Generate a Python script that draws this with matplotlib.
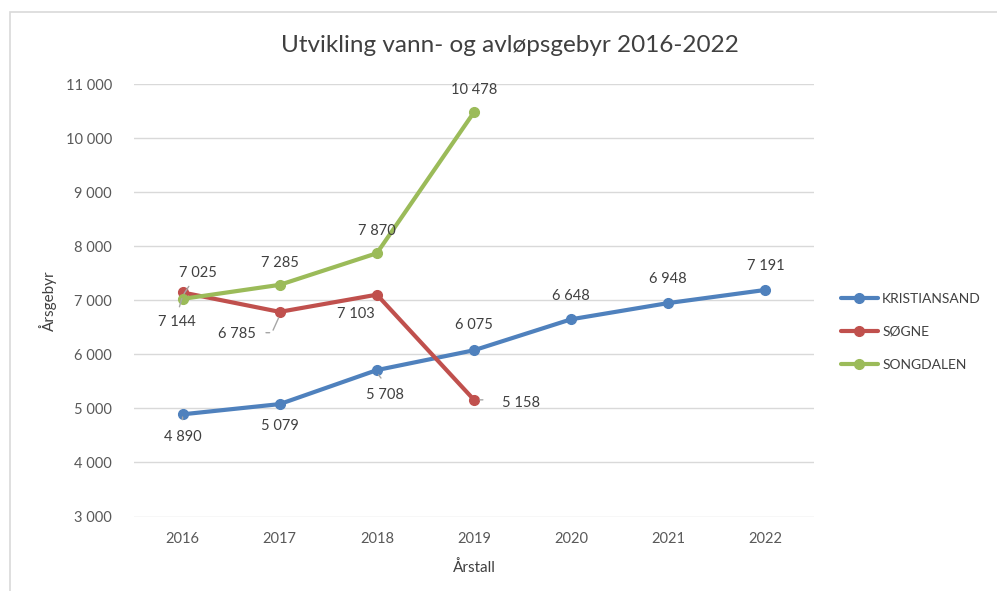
import matplotlib
matplotlib.use("Agg")
import matplotlib.pyplot as plt
from matplotlib.patches import Rectangle

years = ["2016", "2017", "2018", "2019", "2020", "2021", "2022"]
kristiansand = [4890, 5079, 5708, 6075, 6648, 6948, 7191]
sogne = [7144, 6785, 7103, 5158]
songdalen = [7025, 7285, 7870, 10478]
yticks = [3000, 4000, 5000, 6000, 7000, 8000, 9000, 10000, 11000]

def fmt(v):
    return f"{v:,}".replace(",", " ")

plt.rcParams['font.family'] = ['Lato', 'DejaVu Sans']
W, H = 997, 591
fig = plt.figure(figsize=(W / 100, H / 100), dpi=100)

# chart area border
fig.patches.append(Rectangle((10 / W, -0.05), 1.1, 1 - 12 / H + 0.05, transform=fig.transFigure,
                             fill=False, edgecolor="#d9d9d9", linewidth=1.2))

ax = fig.add_axes([134 / W, 1 - 516.5 / H, 680 / W, (516.5 - 84) / H])
ax.set_xlim(-0.5, 6.5)
ax.set_ylim(3000, 11000)
ax.set_yticks(yticks)
ax.set_yticklabels([fmt(v) for v in yticks])
ax.set_xticks(range(len(years)))
ax.set_xticklabels(years)
ax.grid(axis="y", color="#d9d9d9", linewidth=1)
ax.set_axisbelow(True)
for s in ax.spines.values():
    s.set_visible(False)
ax.tick_params(length=0, colors="#595959", labelsize=10.5)
ax.tick_params(axis="y", pad=16)
ax.tick_params(axis="x", pad=11)

c_k, c_s, c_g = "#4f81bd", "#c0504d", "#9bbb59"
x = list(range(len(years)))
ax.plot(x, kristiansand, color=c_k, lw=3, marker="o", ms=7, label="KRISTIANSAND", solid_capstyle="round")
ax.plot(x[:len(sogne)], sogne, color=c_s, lw=3, marker="o", ms=7, label="SØGNE", solid_capstyle="round")
ax.plot(x[:len(songdalen)], songdalen, color=c_g, lw=3, marker="o", ms=7, label="SONGDALEN", solid_capstyle="round")

lab = dict(fontsize=10.5, color="#404040", ha="center", va="center")
# Kristiansand labels (offsets in points)
k_off = [(0, -16), (0, -16), (6, -18), (0, 18), (0, 17), (0, 17), (0, 17)]
for i, v in enumerate(kristiansand):
    ax.annotate(fmt(v), (i, v), xytext=k_off[i], textcoords="offset points", **lab)
# Søgne labels
s_off = [(-4, -21), (-31, -16), (-15, -14), (34, -2)]
for i, v in enumerate(sogne):
    ax.annotate(fmt(v), (i, v), xytext=s_off[i], textcoords="offset points", **lab)
# Songdalen labels
g_off = [(11, 19), (0, 16), (0, 16), (0, 16)]
for i, v in enumerate(songdalen):
    ax.annotate(fmt(v), (i, v), xytext=g_off[i], textcoords="offset points", **lab)

# leader lines
lc = dict(color="#a6a6a6", lw=1)
ax.annotate("", (0, 7080), xytext=(0.08, 7300), arrowprops=dict(arrowstyle="-", **lc))
ax.annotate("", (0, 7080), xytext=(-0.04, 6830), arrowprops=dict(arrowstyle="-", **lc))
ax.annotate("", (1, 6720), xytext=(0.92, 6400), arrowprops=dict(arrowstyle="-", **lc))
ax.annotate("", (0.925, 6400), xytext=(0.83, 6400), arrowprops=dict(arrowstyle="-", **lc))
ax.annotate("", (0, 4840), xytext=(0, 4740), arrowprops=dict(arrowstyle="-", **lc))
ax.annotate("", (2, 5660), xytext=(2.06, 5520), arrowprops=dict(arrowstyle="-", **lc))
ax.annotate("", (3.03, 5158), xytext=(3.12, 5158), arrowprops=dict(arrowstyle="-", **lc))

ax.set_ylabel("Årsgebyr", fontsize=11, color="#404040", labelpad=6)
ax.set_xlabel("Årstall", fontsize=11, color="#404040", labelpad=10)
fig.text(510 / W, 1 - 46 / H, "Utvikling vann- og avløpsgebyr 2016-2022", ha="center", va="center",
         fontsize=17.5, color="#404040")

leg = ax.legend(loc="center left", bbox_to_anchor=(835 / W, 1 - 332 / H), bbox_transform=fig.transFigure,
                frameon=False, fontsize=10, labelcolor="#404040", handlelength=2.7, labelspacing=1.5,
                handletextpad=0.3, borderaxespad=0)

fig.savefig("out.png", dpi=100)
